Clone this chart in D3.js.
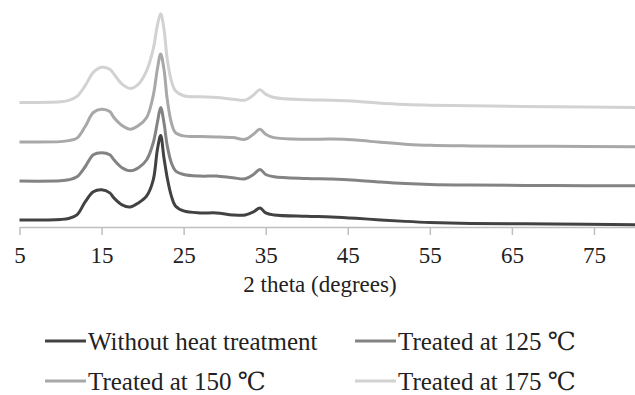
<!DOCTYPE html>
<html>
<head>
<meta charset="utf-8">
<script src="https://cdn.jsdelivr.net/npm/d3@7"></script>
<style>
  body { margin: 0; background: #fff; }
</style>
</head>
<body>
<div id="chart"></div>
<script>
// 2 theta positions (degrees) at which the traces were read
const twoTheta = [5, 10, 11, 12, 13, 14, 15, 16, 16.5, 17.5, 18.5, 19.5, 20.5, 21.3, 21.8, 22.2, 22.6, 23, 23.5, 24, 25,
  27, 29, 31, 32.5, 33.5, 34.3, 35, 36, 40, 43, 46, 49, 52, 55, 60, 70, 80];

// intensities (a.u., traces stacked with offset)
const noHeat = [7, 7.5, 8.5, 12, 25, 35, 37, 34, 29, 22, 20, 24, 31, 47, 77, 91, 69, 49, 31, 21, 16,
  14, 14, 12, 12, 15, 19, 14, 12, 10.7, 10, 8.7, 7, 5.6, 4.5, 3.5, 3, 2.3];
const heat125 = [45.7, 46, 47, 50, 60, 72, 74, 72, 67, 59, 56, 59, 67, 84, 104, 119, 104, 81, 64, 56, 52.3,
  50.7, 50.7, 49, 48, 52.3, 57.3, 52.3, 50, 48.3, 47.8, 46.6, 44.8, 43.3, 42.3, 41.7, 41.3, 41];
const heat150 = [84.7, 85, 86, 88.5, 100, 114, 117.3, 115, 109, 101, 97.3, 101, 109, 131, 157.3, 172.3, 157.3, 127.3, 104, 94, 90.7,
  90, 89.7, 89, 87.3, 92.3, 97.3, 92.3, 89, 87.3, 87.5, 86.5, 84.3, 82.5, 81.3, 80.7, 80.3, 80];
const heat175 = [124, 124.7, 126, 130, 140.7, 154, 159, 157, 152.3, 142.3, 138, 142.3, 155.7, 177.3, 200.7, 212.3, 197.3, 167.3, 145.7, 135.7, 130.7,
  129.7, 129, 127.3, 126.3, 131.3, 136.7, 132.3, 129, 126.7, 126.2, 125.2, 123.2, 122, 121.3, 120.7, 119.7, 119];

const seriesNames = ['Without heat treatment', 'Treated at 125 \u2103', 'Treated at 150 \u2103', 'Treated at 175 \u2103'];
const seriesValues = [noHeat, heat125, heat150, heat175];
const seriesColors = ['#424242', '#838383', '#a8a8a8', '#d2d2d2'];
const xTicks = [5, 15, 25, 35, 45, 55, 65, 75];

const width = 635, height = 395;
const margin = { top: 0, right: 0, bottom: 168, left: 19.5 };
const plotH = height - margin.bottom;
const serif = '"Liberation Serif", "Times New Roman", "DejaVu Serif", serif';

const svg = d3.select('#chart').append('svg')
  .attr('width', width)
  .attr('height', height);

const x = d3.scaleLinear().domain([5, 80]).range([margin.left, width]);
const y = d3.scaleLinear().domain([0, 226]).range([plotH, 0]);

// x axis
const axis = svg.append('g')
  .attr('transform', `translate(0,${plotH})`)
  .call(d3.axisBottom(x).tickValues(xTicks).tickSize(8).tickSizeOuter(0).tickPadding(12));
axis.select('.domain').attr('stroke', '#bfbfbf').attr('stroke-width', 1.5);
axis.selectAll('.tick line').attr('stroke', '#bfbfbf').attr('stroke-width', 1.5);
axis.selectAll('.tick text')
  .attr('fill', '#222')
  .style('font-family', serif)
  .style('font-size', '23px');

svg.append('text')
  .attr('x', 320)
  .attr('y', 292)
  .attr('text-anchor', 'middle')
  .attr('fill', '#222')
  .style('font-family', serif)
  .style('font-size', '23px')
  .text('2 theta (degrees)');

// traces
const line = d3.line()
  .x(d => x(d[0]))
  .y(d => y(d[1]))
  .curve(d3.curveCatmullRom.alpha(0.5));

seriesValues.forEach((vals, i) => {
  svg.append('path')
    .datum(twoTheta.map((t, j) => [t, vals[j]]))
    .attr('fill', 'none')
    .attr('stroke', seriesColors[i])
    .attr('stroke-width', 3)
    .attr('stroke-linejoin', 'round')
    .attr('d', line);
});

// legend
const legendPos = [[45, 341], [355, 341], [45, 381], [355, 381]];
seriesNames.forEach((name, i) => {
  const g = svg.append('g').attr('transform', `translate(${legendPos[i][0]},${legendPos[i][1]})`);
  g.append('line')
    .attr('x1', 0).attr('x2', 41)
    .attr('stroke', seriesColors[i])
    .attr('stroke-width', 3);
  g.append('text')
    .attr('x', 43)
    .attr('y', 9)
    .attr('fill', '#222')
    .style('font-family', serif)
    .style('font-size', '25px')
    .text(name);
});
</script>
</body>
</html>
